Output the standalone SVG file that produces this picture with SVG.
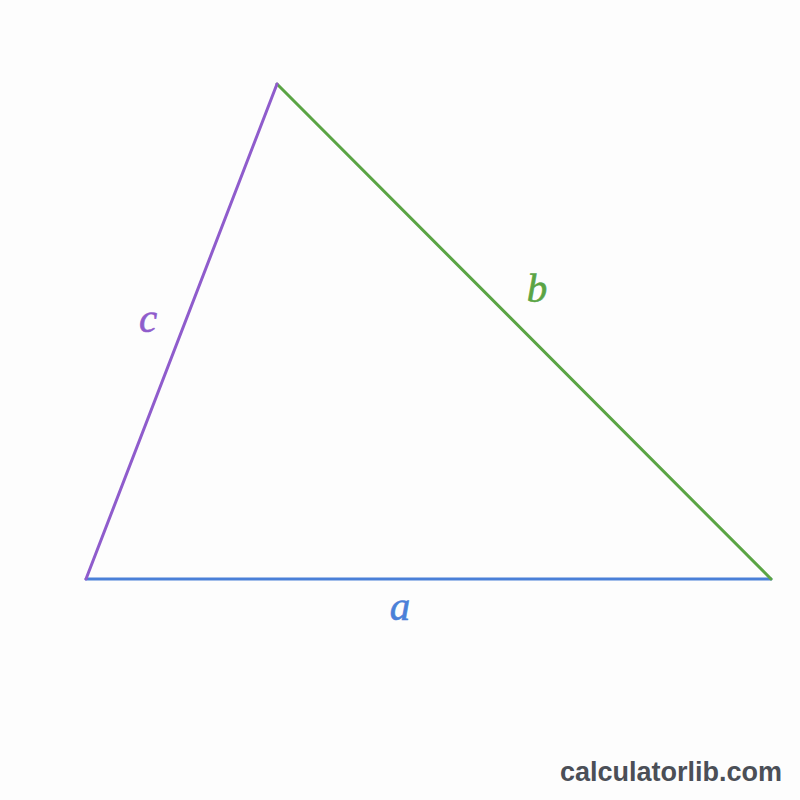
<svg xmlns="http://www.w3.org/2000/svg" width="800" height="800" viewBox="0 0 800 800">
<style>
.lbl{font-family:"Liberation Serif",serif;font-style:italic;font-size:41px;text-anchor:middle;stroke-width:0.6}
.e{stroke-width:3;stroke-linecap:round;fill:none}
</style>
<rect width="800" height="800" fill="#fdfdfd"/>
<g id="connectors">
<line id="side-a" class="e" x1="86" y1="579" x2="771" y2="579" stroke="#4a80d8"/>
<line id="side-b" class="e" x1="277" y1="84" x2="771" y2="579" stroke="#5aa444"/>
<line id="side-c" class="e" x1="86" y1="579" x2="277" y2="84" stroke="#8f5ccc"/>
</g>
<g id="label-a"><text class="lbl" x="400" y="620" fill="#4a80d8" stroke="#4a80d8">a</text></g>
<g id="label-b"><text class="lbl" x="537" y="302" fill="#5aa444" stroke="#5aa444">b</text></g>
<g id="label-c"><text class="lbl" x="148" y="332" fill="#8f5ccc" stroke="#8f5ccc">c</text></g>
<g id="watermark"><text x="782" y="781" text-anchor="end" font-family="Liberation Sans,Arial,sans-serif" font-weight="bold" font-size="27" fill="#4b4f57">calculatorlib.com</text></g>
</svg>
